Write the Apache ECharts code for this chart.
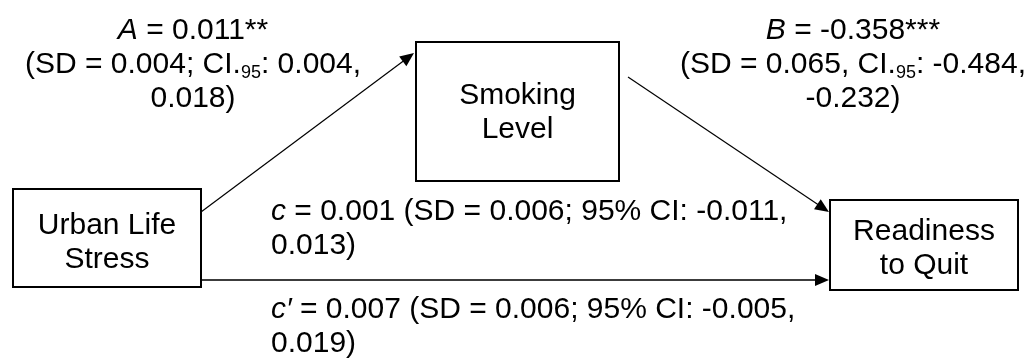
<!DOCTYPE html>
<html><head><meta charset="utf-8">
<script src="https://cdn.jsdelivr.net/npm/echarts@6/dist/echarts.min.js"></script>
<style>html,body{margin:0;padding:0;background:#fff}#main{width:1031px;height:360px}</style>
</head><body><div id="main"></div>
<script>
// ---------------- data ----------------
const nodeNames = ['Urban Life\nStress', 'Smoking\nLevel', 'Readiness\nto Quit'];
const pathNames = ['A', 'B', 'c', 'c\u2032'];
const estimates = ['0.011', '-0.358', '0.001', '0.007'];
const significance = ['**', '***', '', ''];
const sdValues = ['0.004', '0.065', '0.006', '0.006'];
const sdSeparator = [';', ',', ';', ';'];
const ciLower = ['0.004', '-0.484', '-0.011', '-0.005'];
const ciUpper = ['0.018', '-0.232', '0.013', '0.019'];
const ciNotation = ['sub', 'sub', 'pct', 'pct'];

// ---------------- layout (diagram space 1031 x 360) ----------------
const nodeBox = [[13, 189, 201, 287], [416, 42, 619, 181], [830, 200, 1018, 290]];
const nodeTextShift = [5, 1, 4];
const arrowStart = [[201, 212], [628, 77], [201, 280]];
const arrowTip = [[414, 53], [829, 212], [829, 280]];
const arrowColor = ['#000', '#000', '#3c3c3c'];
const arrowWidth = [1.2, 1.2, 2];
const labelPos = [[193, 65], [853, 65], [271, 229], [271, 327]];
const labelAlign = ['center', 'center', 'left', 'left'];

const FONT = '"Liberation Sans", Arial, Helvetica, sans-serif';
const FS = 30, LH = 34;

function labelText(i) {
  const ci = ciNotation[i] === 'sub'
    ? 'CI.{s|95}: ' + ciLower[i] + ','
    : '95% CI: ' + ciLower[i] + ',';
  if (labelAlign[i] === 'center') {
    return '{i|' + pathNames[i] + '} = ' + estimates[i] + significance[i] + '\n' +
      '(SD = ' + sdValues[i] + sdSeparator[i] + ' ' + ci + '\n' + ciUpper[i] + ')';
  }
  return '{i|' + pathNames[i] + '} = ' + estimates[i] + significance[i] + ' (SD = ' +
    sdValues[i] + sdSeparator[i] + ' ' + ci + '\n' + ciUpper[i] + ')';
}

const rich = {
  i: { fontSize: FS, fontFamily: FONT, fontStyle: 'italic', lineHeight: LH, fill: '#000' },
  s: { fontSize: 18, fontFamily: FONT, lineHeight: 27, verticalAlign: 'bottom', fill: '#000' }
};

const chart = echarts.init(document.getElementById('main'), null, { renderer: 'canvas' });

chart.setOption({
  backgroundColor: '#fff',
  animation: false,
  grid: { left: 0, right: 0, top: 0, bottom: 0 },
  xAxis: { type: 'value', min: 0, max: 1031, show: false },
  yAxis: { type: 'value', min: 0, max: 360, inverse: true, show: false },
  series: [
    {
      type: 'custom', coordinateSystem: 'cartesian2d', clip: false, silent: true,
      data: arrowStart.map((_, i) => [i, 0]),
      renderItem: function (params, api) {
        const i = api.value(0);
        const s = api.coord(arrowStart[i]);
        const t = api.coord(arrowTip[i]);
        const dx = t[0] - s[0], dy = t[1] - s[1];
        const len = Math.sqrt(dx * dx + dy * dy);
        const ux = dx / len, uy = dy / len;
        const L = 14, W = 6;
        const bx = t[0] - ux * L, by = t[1] - uy * L;
        const nx = -uy, ny = ux;
        return {
          type: 'group', children: [
            { type: 'line', shape: { x1: s[0], y1: s[1], x2: bx + ux * 2, y2: by + uy * 2 },
              style: { stroke: arrowColor[i], lineWidth: arrowWidth[i] } },
            { type: 'polygon', shape: { points: [[t[0], t[1]], [bx + nx * W, by + ny * W], [bx - nx * W, by - ny * W]] },
              style: { fill: '#000' } }
          ]
        };
      }
    },
    {
      type: 'custom', coordinateSystem: 'cartesian2d', clip: false, silent: true,
      data: nodeNames.map((_, i) => [i, 0]),
      renderItem: function (params, api) {
        const i = api.value(0);
        const b = nodeBox[i];
        const p0 = api.coord([b[0], b[1]]);
        const p1 = api.coord([b[2], b[3]]);
        return {
          type: 'group', children: [
            { type: 'rect', shape: { x: p0[0], y: p0[1], width: p1[0] - p0[0], height: p1[1] - p0[1] },
              style: { fill: '#fff', stroke: '#000', lineWidth: 2 } },
            { type: 'text', style: {
                text: nodeNames[i], x: (p0[0] + p1[0]) / 2, y: (p0[1] + p1[1]) / 2 + nodeTextShift[i],
                align: 'center', verticalAlign: 'middle', fontSize: FS, fontFamily: FONT,
                lineHeight: LH, fill: '#000' } }
          ]
        };
      }
    },
    {
      type: 'custom', coordinateSystem: 'cartesian2d', clip: false, silent: true,
      data: pathNames.map((_, i) => [i, 0]),
      renderItem: function (params, api) {
        const i = api.value(0);
        const p = api.coord(labelPos[i]);
        return {
          type: 'text', style: {
            text: labelText(i), x: p[0], y: p[1], align: labelAlign[i], verticalAlign: 'middle',
            fontSize: FS, fontFamily: FONT, lineHeight: LH, fill: '#000', rich: rich }
        };
      }
    }
  ]
});
</script></body></html>
